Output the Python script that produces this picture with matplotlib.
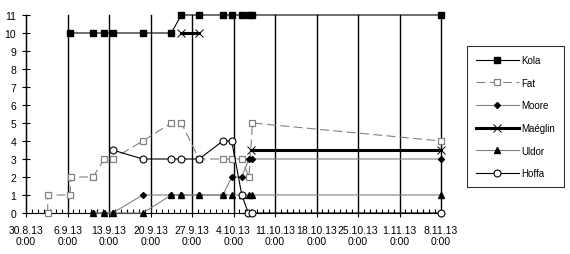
import matplotlib
matplotlib.use("Agg")
import matplotlib.pyplot as plt
import numpy as np

plt.rcParams["font.family"] = ["Liberation Sans", "DejaVu Sans"]

# x values are days after 30.8.13 0:00
week_labels = ["30.8.13", "6.9.13", "13.9.13", "20.9.13", "27.9.13", "4.10.13",
               "11.10.13", "18.10.13", "25.10.13", "1.11.13", "8.11.13"]

kola_x = [7.5, 11.3, 13.2, 14.6, 19.7, 24.5, 26.2, 29.2, 33.2, 34.7, 36.4, 37.6, 38.2, 70]
kola_y = [10, 10, 10, 10, 10, 10, 11, 11, 11, 11, 11, 11, 11, 11]

fat_x = [3.65, 3.7, 7.45, 7.55, 11.3, 13.2, 14.6, 19.7, 24.5, 26.2, 29.2, 33.2, 34.7, 36.4, 37.6, 38.2, 70]
fat_y = [0, 1, 1, 2, 2, 3, 3, 4, 5, 5, 3, 3, 3, 3, 2, 5, 4]

moore_x = [11.3, 13.2, 14.6, 19.7, 24.5, 26.2, 29.2, 33.2, 34.7, 36.4, 37.6, 38.2, 70]
moore_y = [0, 0, 0, 1, 1, 1, 1, 1, 2, 2, 3, 3, 3]

maeglin_x = [26.2, 29.2, 33.0, 37.9, 70]
maeglin_y = [10, 10, np.nan, 3.5, 3.5]

uldor_x = [11.3, 13.2, 14.6, 19.7, 24.5, 26.2, 29.2, 33.2, 34.7, 36.4, 37.6, 38.2, 70]
uldor_y = [0, 0, 0, 0, 1, 1, 1, 1, 1, 1, 1, 1, 1]

hoffa_x = [14.6, 19.7, 24.5, 26.2, 29.2, 33.2, 34.7, 36.4, 37.5, 38.2, 70]
hoffa_y = [3.5, 3, 3, 3, 3, 4, 4, 1, 0, 0, 0]

gray = "#808080"

fig = plt.figure(figsize=(5.7, 2.55), dpi=100)
ax = fig.add_axes([26 / 570, 1 - 214 / 255, (441 - 26) / 570, (214 - 16) / 255])

common = dict(clip_on=False, zorder=3)
ax.plot(kola_x, kola_y, color="black", lw=0.8, marker="s", ms=4.2,
        mfc="black", mec="black", label="Kola", **common)
ax.plot(fat_x, fat_y, color=gray, lw=0.8, ls=(0, (8, 4)), marker="s", ms=4.5,
        mfc="white", mec=gray, mew=0.9, label="Fat", **common)
ax.plot(moore_x, moore_y, color=gray, lw=0.8, marker="D", ms=3,
        mfc="black", mec="black", label="Moore", **common)
ax.plot(maeglin_x, maeglin_y, color="black", lw=2.2, marker="x", ms=5.5,
        mec="black", mew=0.7, label="Maéglin", **common)
ax.plot(uldor_x, uldor_y, color=gray, lw=0.8, marker="^", ms=4.2,
        mfc="black", mec="black", label="Uldor", **common)
ax.plot(hoffa_x, hoffa_y, color="black", lw=0.8, marker="o", ms=5,
        mfc="white", mec="black", mew=0.8, label="Hoffa", **common)

ax.set_xlim(0, 70)
ax.set_ylim(0, 11)
ax.set_xticks(np.arange(0, 71, 7))
ax.set_xticklabels([lab + "\n0:00" for lab in week_labels], fontsize=7.5)
ax.set_xticks(np.arange(0, 71, 1), minor=True)
ax.set_yticks(range(0, 12))
ax.tick_params(axis="y", labelsize=7.5, direction="inout", length=6, width=0.8, pad=4)
ax.tick_params(axis="x", which="major", direction="out", length=3, width=0.8, pad=5.5)
ax.tick_params(axis="x", which="minor", direction="in", length=3, width=0.8)
ax.grid(axis="x", color="black", lw=1.0)
ax.set_axisbelow(True)
for t in ax.xaxis.get_major_ticks():
    t.gridline.set_clip_on(False)
for s in ["top", "right"]:
    ax.spines[s].set_visible(False)
for s in ["left", "bottom"]:
    ax.spines[s].set_linewidth(0.8)

leg = fig.legend(loc="upper left", bbox_to_anchor=(467 / 570, 1 - 47 / 255),
                 fontsize=7, frameon=True, fancybox=False, edgecolor="black",
                 handlelength=4.4, handletextpad=0.2, labelspacing=1.3,
                 borderpad=0.93, borderaxespad=0)
leg.get_frame().set_linewidth(0.8)

fig.savefig("out.png", dpi=100)
